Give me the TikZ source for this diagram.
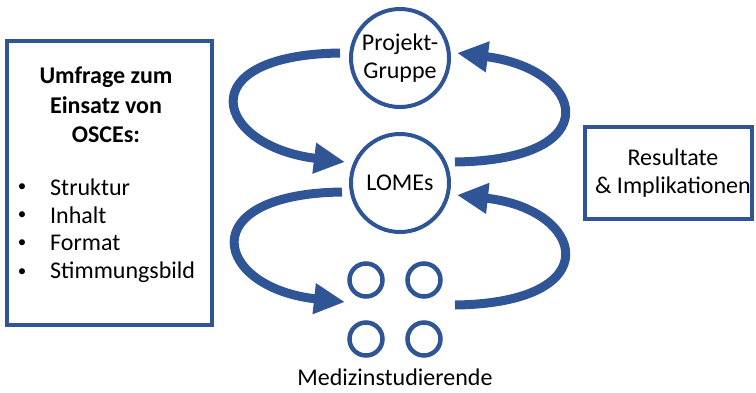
\documentclass[tikz,border=0pt]{standalone}
\usepackage{fontspec}
\setmainfont{Carlito}
\usetikzlibrary{arrows.meta}
\definecolor{oblue}{RGB}{47,85,151}
\tikzset{
  frame/.style={draw=oblue, line width=3.5pt},
  ring/.style={circle, draw=oblue, line width=4pt, inner sep=0pt, align=center},
  smallring/.style={circle, draw=oblue, line width=4.5pt, inner sep=0pt, minimum size=33pt},
  bigarrow/.style={draw=oblue, line width=9pt, -{Triangle[length=31pt,width=29pt]}},
  txt/.style={font=\fontsize{24}{28}\selectfont, inner sep=0pt},
  bul/.style={font=\fontsize{17}{20}\selectfont, inner sep=0pt},
}
\begin{document}
\begin{tikzpicture}[x=1pt,y=-1pt]
\useasboundingbox (0,0) rectangle (756,392);
% left box
\node[frame, minimum width=205pt, minimum height=284pt, inner sep=0pt] (LB) at (109.5,183) {};
\node[txt, font=\fontsize{24}{29.5}\selectfont\bfseries, align=center] (title) at (106,105) {Umfrage zum\\Einsatz von\\OSCEs:};
\node[bul] (b1) at (22,188) {•};
\node[bul] (b2) at (22,216) {•};
\node[bul] (b3) at (22,244) {•};
\node[bul] (b4) at (22,273) {•};
\node[txt, anchor=west] (i1) at (50,187) {Struktur};
\node[txt, anchor=west] (i2) at (50,215) {Inhalt};
\node[txt, anchor=west] (i3) at (50,243) {Format};
\node[txt, anchor=west] (i4) at (50,272) {Stimmungsbild};
% right box
\node[frame, minimum width=167pt, minimum height=92pt, inner sep=0pt] (RB) at (668.5,173) {};
\node[txt, align=center] (res) at (673,173) {Resultate\\\& Implikationen};
% circles
\node[ring, minimum size=98pt, txt, inner sep=0pt] (PG) at (400,58) {Projekt-\\Gruppe};
\node[ring, minimum size=98pt, txt, inner sep=0pt] (LO) at (400,183) {LOMEs};
\node[smallring] (s1) at (366,280) {};
\node[smallring] (s2) at (424,280) {};
\node[smallring] (s3) at (366,339) {};
\node[smallring] (s4) at (424,339) {};
\coordinate (ST) at (395,302);
\node[txt] (med) at (395,377) {Medizinstudierende};
% arrows
\draw[bigarrow] ([xshift=-9pt,yshift=5pt]PG.west) .. controls +(-152,2) and +(-130,-16) .. ([xshift=-4pt,yshift=21pt]LO.west);
\draw[bigarrow] ([xshift=4pt,yshift=21pt]LO.east) .. controls +(155,-2) and +(128,16) .. ([xshift=6pt,yshift=5pt]PG.east);
\draw[bigarrow] ([xshift=-7pt,yshift=-9pt]LO.west) .. controls +(-152,2) and +(-130,-14) .. ([xshift=-50pt]ST);
\draw[bigarrow] ([xshift=60pt,yshift=-3pt]ST) .. controls +(155,-2) and +(128,14) .. ([xshift=6pt,yshift=-12pt]LO.east);
\end{tikzpicture}
\end{document}
